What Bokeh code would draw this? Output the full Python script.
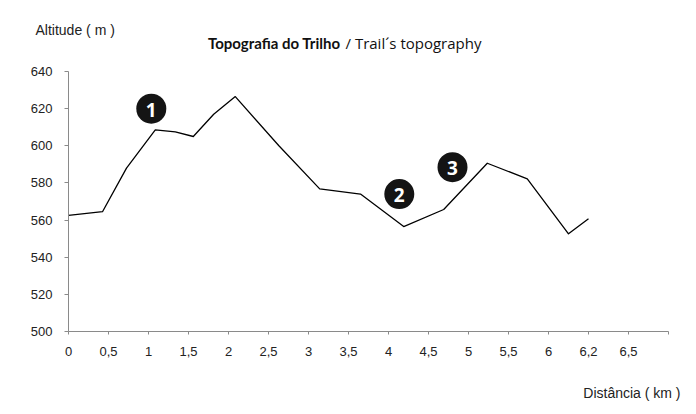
from bokeh.plotting import figure
from bokeh.models import Label, FixedTicker, Range1d
from bokeh.embed import file_html
from bokeh.resources import INLINE
from bokeh.core.properties import value

# axis positions (category slots along the distance axis) and altitude (m)
distance_pos = [0, 0.85, 1.45, 2.17, 2.67, 3.12, 3.63, 4.17, 5.26, 6.28, 7.3, 8.38, 9.38, 10.47, 11.47, 12.5, 13.0]
altitude = [562.5, 564.5, 588, 608.6, 607.5, 605, 617, 626.5, 600, 576.8, 574, 556.5, 565.7, 590.6, 582.2, 552.6, 560.7]

x_tick_labels = ["0", "0,5", "1", "1,5", "2", "2,5", "3", "3,5", "4", "4,5", "5", "5,5", "6", "6,2", "6,5", ""]
y_ticks = [500, 520, 540, 560, 580, 600, 620, 640]

marker_pos = [2.07, 8.27, 9.6]
marker_alt = [620, 574, 588.5]
marker_text = ["1", "2", "3"]

p = figure(width=696, height=414, output_backend="svg", toolbar_location=None,
           x_range=Range1d(0, 15), y_range=Range1d(500, 640),
           min_border_left=68, min_border_right=28, min_border_top=71, min_border_bottom=83)
p.outline_line_color = None
p.xgrid.visible = False
p.ygrid.visible = False
p.background_fill_color = "white"
p.border_fill_color = "white"

p.xaxis.ticker = FixedTicker(ticks=list(range(len(x_tick_labels))))
p.xaxis.major_label_overrides = {i: t for i, t in enumerate(x_tick_labels)}
p.yaxis.ticker = FixedTicker(ticks=y_ticks)
for ax in (p.xaxis, p.yaxis):
    ax.axis_line_color = "#8a8a8a"
    ax.major_tick_line_color = "#8a8a8a"
    ax.minor_tick_line_color = None
    ax.major_label_text_font = "Liberation Sans"
    ax.major_label_text_font_size = "13px"
    ax.major_label_text_color = "#222222"
p.xaxis.major_tick_out = 3
p.xaxis.major_tick_in = 0
p.yaxis.major_tick_out = 4
p.yaxis.major_tick_in = 0
p.xaxis.major_label_standoff = 12
p.yaxis.major_label_standoff = 12

p.line(distance_pos, altitude, line_color="black", line_width=1.3, line_join="round")

p.scatter(marker_pos, marker_alt, size=30, fill_color="#141414", line_color=None)
p.text(marker_pos, marker_alt, text=marker_text, text_color="white",
       text_font=value("Open Sans"), text_font_style="bold", text_font_size="19px",
       text_align="center", text_baseline="middle", y_offset=1)

p.add_layout(Label(x=612, y=-321, x_units="screen", y_units="screen", text="Distância ( km )",
                   text_font="Liberation Sans", text_font_size="14px", text_color="#222222",
                   text_baseline="middle", text_align="right"), "above")
p.add_layout(Label(x=-33, y=26, x_units="screen", y_units="screen", text="Altitude ( m )",
                   text_font="Liberation Sans", text_font_size="14px", text_color="#222222",
                   text_baseline="middle", text_align="left"), "above")
p.add_layout(Label(x=272, y=-3, x_units="screen", y_units="screen", text="Topografia do Trilho",
                   text_font="Lato", text_font_style="bold", text_font_size="15px", text_color="#111111",
                   text_baseline="middle", text_align="right"), "above")
p.add_layout(Label(x=277, y=-21, x_units="screen", y_units="screen", text="/ Trail\u00b4s topography",
                   text_font="Open Sans", text_font_size="15px", text_color="#111111",
                   text_baseline="middle", text_align="left"), "above")

open("out.html", "w").write(file_html(p, INLINE))
